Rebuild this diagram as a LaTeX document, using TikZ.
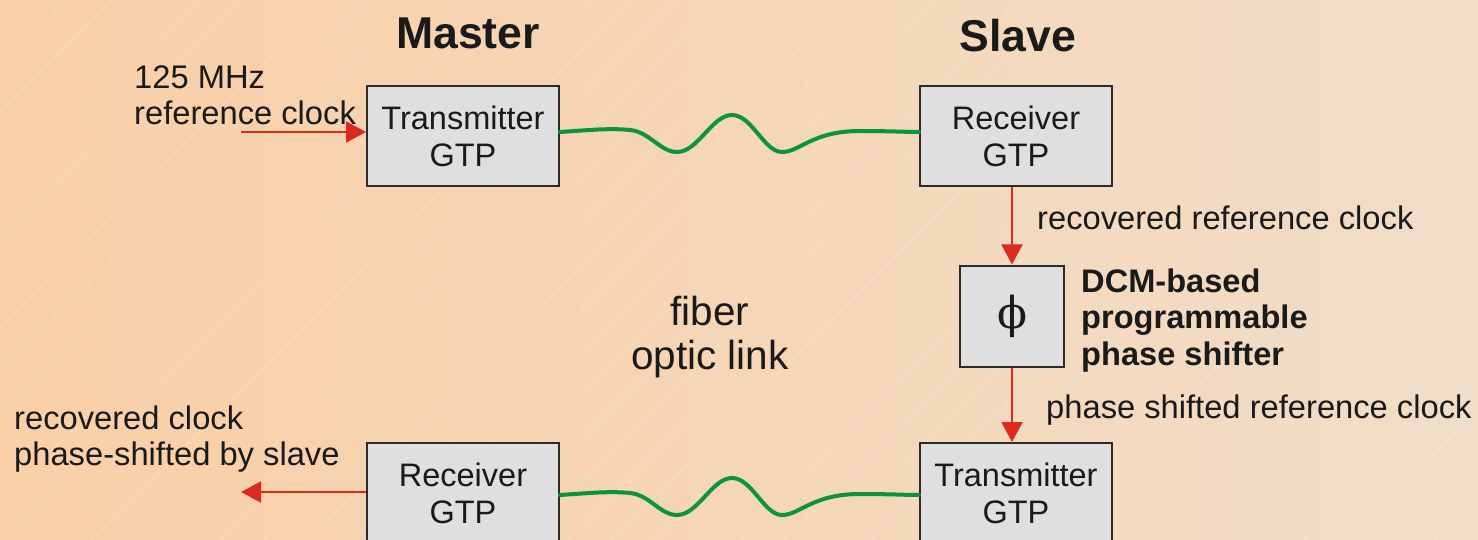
\documentclass[tikz,border=0pt]{standalone}
\usepackage{fontspec}
\setmainfont{Liberation Sans}
\newfontfamily\phifont{DejaVu Serif}
\usepackage{graphicx}
\usetikzlibrary{arrows.meta}
\definecolor{bgL}{HTML}{F9CFA6}
\definecolor{bgR}{HTML}{F1DDC8}
\definecolor{boxfill}{HTML}{DFDFDF}
\definecolor{boxline}{HTML}{2B2B2B}
\definecolor{arrred}{HTML}{DC2A1E}
\definecolor{fibgreen}{HTML}{0A9440}
\definecolor{txt}{HTML}{1A1A1A}
\begin{document}
\begin{tikzpicture}[x=1pt,y=-1pt,
  gtp/.style={draw=boxline, line width=2pt, fill=boxfill, minimum width=192pt,
    minimum height=100pt, inner sep=0pt, align=center,
    font=\fontsize{32.5}{37}\selectfont, text=txt},
  phbox/.style={draw=boxline, line width=2pt, fill=boxfill, minimum width=104pt,
    minimum height=101pt, inner sep=0pt, text=txt, font=\fontsize{44}{44}\selectfont\phifont},
  lbl/.style={font=\fontsize{32.7}{36}\selectfont, text=txt, inner sep=0pt, align=left},
  blbl/.style={font=\fontsize{32.6}{36.5}\selectfont\bfseries, text=txt, inner sep=0pt, align=left},
  ttl/.style={font=\fontsize{44.6}{48}\selectfont\bfseries, text=txt, inner sep=0pt},
  big/.style={font=\fontsize{40.5}{44}\selectfont, text=txt, inner sep=0pt, align=center},
  arr/.style={draw=arrred, line width=2pt, -{Triangle[length=20pt,width=21pt]}},
  fiber/.style={draw=fibgreen, line width=4pt, line cap=round}]
% background
\useasboundingbox (0,0) rectangle (1478,540);
\shade[left color=bgL, right color=bgR] (0,0) rectangle (1478,540);
\begin{scope}
  \clip (0,0) rectangle (1478,540);
  \foreach \k in {-30,...,18}{
    \pgfmathsetmacro{\xt}{1238+43.33*\k}
    \draw[white, opacity=0.22, line width=0.6pt] (\xt,0) -- (\xt-540,540);
  }
\end{scope}
% titles
\node[ttl, anchor=base] (mst) at (468,49) {Master};
\node[ttl, anchor=base] (slv) at (1018,52) {Slave};
% boxes
\node[gtp] (tm) at (463,136) {Transmitter\\GTP};
\node[gtp] (rs) at (1016,136) {Receiver\\GTP};
\node[phbox] (ph) at (1012,316) {ϕ};
\node[gtp] (rm) at (463,493) {Receiver\\GTP};
\node[gtp] (ts) at (1016,493) {Transmitter\\GTP};
% labels
\node[lbl, anchor=base west] (lin) at (134,124.5) {125 MHz\\reference clock};
\node[lbl, anchor=base west] (lrec) at (1037,230) {recovered reference clock};
\node[blbl, anchor=base west] (ldcm) at (1081,365) {DCM-based\\programmable\\phase shifter};
\node[big, anchor=base] (lfib) at (710,369.5) {fiber\\optic link};
\node[lbl, anchor=base west] (lps) at (1046,418) {phase shifted reference clock};
\node[lbl, anchor=base west] (lout) at (14,465.5) {recovered clock\\phase-shifted by slave};
% arrows
\coordinate (inpt) at (241,132);
\coordinate (outpt) at (241,492);
\draw[arr] (inpt) -- (inpt -| tm.west);
\draw[arr] (ph.north |- rs.south) -- (ph.north);
\draw[arr] (ph.south) -- (ph.south |- ts.north);
\draw[arr] (outpt -| rm.west) -- (outpt);
% fibers
\draw[fiber] ([yshift=4pt]tm.east) .. controls (590,130) and (610,128) .. (630,130)
  .. controls (650,132) and (660,152) .. (677,152)
  .. controls (698,152) and (712,115) .. (732,115)
  .. controls (752,115) and (764,152) .. (782,152)
  .. controls (800,152) and (812,131) .. (860,131)
  .. controls (890,131) and (905,132) .. ([yshift=4pt]rs.west);
\begin{scope}[shift={(0,363)}]
\draw[fiber] ([yshift=-2pt]rm.east) .. controls (590,130) and (610,128) .. (630,130)
  .. controls (650,132) and (660,152) .. (677,152)
  .. controls (698,152) and (712,115) .. (732,115)
  .. controls (752,115) and (764,152) .. (782,152)
  .. controls (800,152) and (812,131) .. (860,131)
  .. controls (890,131) and (905,132) .. ([yshift=-2pt]ts.west);
\end{scope}
\end{tikzpicture}
\end{document}
